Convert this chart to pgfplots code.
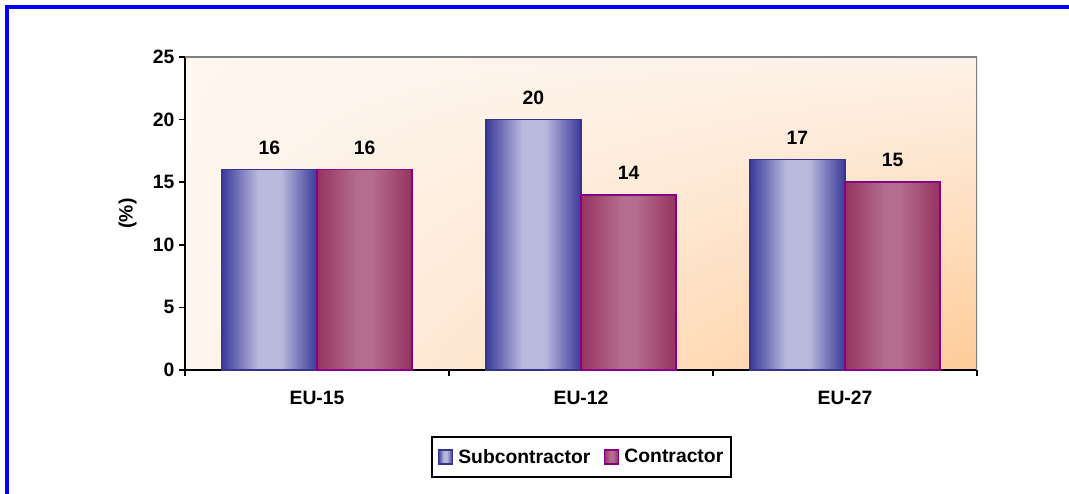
\documentclass[border=0pt]{standalone}
\usepackage{fontspec}
\setmainfont{Liberation Sans}
\usepackage{pgfplots}
\pgfplotsset{compat=1.18}
\usetikzlibrary{shadings}
\definecolor{subdark}{HTML}{3A3A9A}
\definecolor{sublight}{HTML}{B9B9DC}
\definecolor{subedge}{HTML}{34348F}
\definecolor{condark}{HTML}{953361}
\definecolor{conlight}{HTML}{B56D8F}
\definecolor{conedge}{HTML}{880088}
\definecolor{bgTL}{HTML}{FEF6EF}
\definecolor{bgTR}{HTML}{FEF2E8}
\definecolor{bgBL}{HTML}{FEF5EE}
\definecolor{bgBR}{HTML}{FFCB98}
\pgfdeclarehorizontalshading{subshade}{100bp}{color(0bp)=(subdark); color(25bp)=(subdark); color(44bp)=(sublight); color(56bp)=(sublight); color(75bp)=(subdark); color(100bp)=(subdark)}
\pgfdeclarehorizontalshading{conshade}{100bp}{color(0bp)=(condark); color(25bp)=(condark); color(46bp)=(conlight); color(54bp)=(conlight); color(75bp)=(condark); color(100bp)=(condark)}
\newcommand{\lblfont}{\fontsize{14.5}{17}\selectfont\bfseries}
\pgfplotsset{
  subbar/.style={shading=subshade, draw=subedge, line width=0.8pt, bar shift=-0.18,
    legend image code/.code={\draw[shading=subshade, draw=subedge, line width=1pt] (0pt,-5.25pt) rectangle (10.5pt,5.25pt); \path[draw=none] (13pt,0pt);}},
  conbar/.style={shading=conshade, draw=conedge, line width=1.2pt, bar shift=0.18,
    legend image code/.code={\draw[shading=conshade, draw=conedge, line width=1pt] (0pt,-5.25pt) rectangle (10.5pt,5.25pt); \path[draw=none] (13pt,0pt);}},
}
\begin{document}
\begin{tikzpicture}
\useasboundingbox (0,0) rectangle (801.75pt,369.75pt);
\draw[blue, line width=3pt] (5.25pt,-5pt) -- (5.25pt,364.5pt) -- (810pt,364.5pt);
\begin{axis}[
  at={(138.75pt,92.25pt)}, anchor=south west,
  scale only axis, width=594pt, height=234.75pt,
  xmin=-0.5, xmax=2.5, ymin=0, ymax=25,
  axis x line*=bottom, axis y line*=left,
  axis line style={black, line width=1.5pt},
  axis background/.style={shade, upper left=bgTL, upper right=bgTR, lower left=bgBL, lower right=bgBR},
  tick align=outside,
  major tick length=4.5pt,
  ytick={0,5,...,25},
  xtick={0,1,2}, xticklabels={EU-15,EU-12,EU-27},
  xtick style={draw=none},
  ytick style={black, line width=1.2pt},
  extra x ticks={-0.5,0.5,1.5,2.5}, extra x tick labels={},
  extra x tick style={xtick style={draw=black, line width=1.2pt}},
  tick label style={font=\lblfont},
  /pgf/number format/assume math mode=true,
  xticklabel style={yshift=-8pt},
  ylabel={(\%)},
  every axis y label/.style={at={(axis description cs:0,0.5)}, xshift=-43pt, rotate=90, anchor=center, font=\lblfont},
  ybar=0pt, bar width=0.36,
  nodes near coords={\pgfmathprintnumber[fixed,precision=0]{\pgfplotspointmeta}},
  nodes near coords style={anchor=south, yshift=7.5pt, font=\lblfont, black},
  legend style={at={(0.501,-0.278)}, anchor=center, draw=black, line width=1.5pt, legend columns=2, font=\lblfont, inner xsep=4pt, inner ysep=7pt, /tikz/every even column/.append style={column sep=8pt}},
  legend cell align=left,
]
\addplot[subbar] coordinates {(0,16)};
\addlegendentry{Subcontractor}
\addplot[conbar] coordinates {(0,16)};
\addlegendentry{Contractor}
\addplot[subbar, forget plot] coordinates {(1,20)};
\addplot[conbar, forget plot] coordinates {(1,14)};
\addplot[subbar, forget plot] coordinates {(2,16.8)};
\addplot[conbar, forget plot] coordinates {(2,15)};
\draw[gray, line width=1.5pt] (rel axis cs:0,1) -- (rel axis cs:1,1) -- (rel axis cs:1,0);
\end{axis}
\end{tikzpicture}
\end{document}
